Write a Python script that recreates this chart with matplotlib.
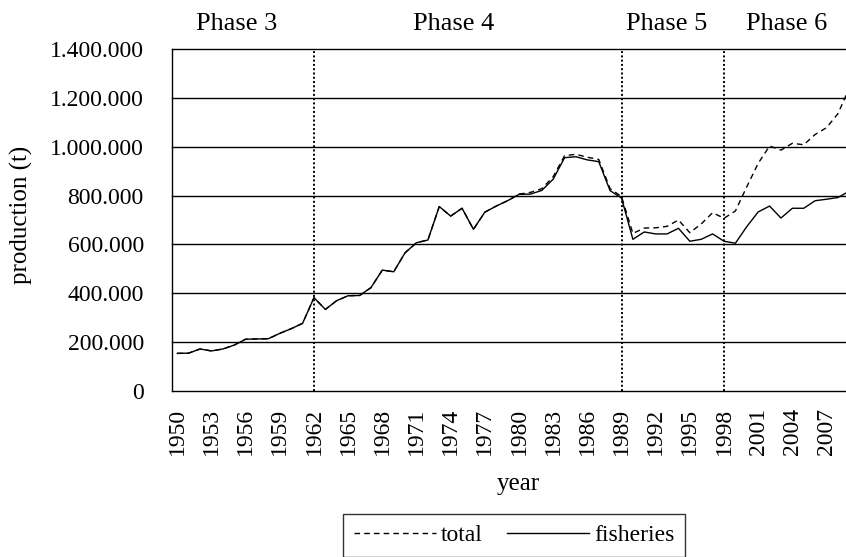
import matplotlib
matplotlib.use("Agg")
import matplotlib.pyplot as plt
from matplotlib.ticker import FuncFormatter

plt.rcParams['font.family'] = ['Liberation Serif', 'DejaVu Serif']

# production in tonnes, 1950-2009
years = list(range(1950, 2010))
fisheries = [154000, 155000, 172000, 164000, 172000, 188000, 212000, 213000, 214000, 236000,
             255000, 277000, 382000, 334000, 370000, 390000, 391000, 423000, 495000, 488000,
             566000, 607000, 618000, 755000, 716000, 748000, 662000, 732000, 757000, 779000,
             805000, 806000, 821000, 867000, 955000, 959000, 946000, 939000, 820000, 790000,
             621000, 651000, 643000, 643000, 666000, 613000, 621000, 643000, 613000, 605000,
             673000, 733000, 757000, 708000, 748000, 748000, 779000, 785000, 792000, 818000]
total = [154000, 155000, 172000, 164000, 172000, 188000, 212000, 213000, 214000, 236000,
         255000, 277000, 382000, 334000, 370000, 390000, 391000, 423000, 495000, 488000,
         566000, 607000, 618000, 755000, 716000, 748000, 662000, 732000, 757000, 779000,
         806000, 813000, 828000, 877000, 963000, 969000, 957000, 948000, 828000, 796000,
         645000, 667000, 668000, 674000, 700000, 648000, 684000, 730000, 707000, 737000,
         836000, 932000, 1003000, 986000, 1014000, 1008000, 1050000, 1078000, 1135000, 1240000]

phase_breaks = [1962, 1989, 1998]
phase_labels = ["Phase 3", "Phase 4", "Phase 5", "Phase 6"]
phase_label_x = [1955.2, 1974.3, 1993.0, 2003.5]
tick_years = list(range(1950, 2010, 3))

W, H = 846, 557
fig = plt.figure(figsize=(W / 100, H / 100), dpi=100)
# plot area runs a little past the right edge of the picture, as in the source
ax = fig.add_axes([171.6 / W, 1 - 391 / H, (855 - 171.6) / W, 342 / H])

for v in range(200000, 1400001, 200000):
    ax.axhline(v, color='black', lw=1.0, zorder=1, clip_on=False)
for yr in phase_breaks:
    ax.axvline(yr, color='black', lw=1.4, ls=(0, (1, 1.2)), zorder=2)

ax.plot(years, total, color='black', lw=1.0, ls=(0, (4, 3)), label='total', zorder=3)
ax.plot(years, fisheries, color='black', lw=1.0, label='fisheries', zorder=4)

ax.set_xlim(1949.5, 2009.5)
ax.set_ylim(0, 1400000)
ax.set_xticks(tick_years)
ax.set_xticklabels([str(y) for y in tick_years], rotation=90, fontsize=17)
ax.set_yticks(range(0, 1400001, 200000))
ax.yaxis.set_major_formatter(FuncFormatter(lambda v, p: f"{int(v):,}".replace(',', '.')))
ax.tick_params(axis='both', length=0, labelsize=17)
ax.tick_params(axis='y', pad=20)
ax.tick_params(axis='x', pad=12)

for side in ['top', 'right']:
    ax.spines[side].set_visible(False)
for side in ['left', 'bottom']:
    ax.spines[side].set_color('black')
    ax.spines[side].set_linewidth(1.0)

for lab, x in zip(phase_labels, phase_label_x):
    ax.text(x, 1.072, lab, transform=ax.get_xaxis_transform(), ha='center', va='center',
            fontsize=19)

fig.text(21 / W, 1 - 215 / H, "production (t)", rotation=90, ha='center', va='center',
         fontsize=18)
fig.text(518 / W, 1 - 484 / H, "year", ha='center', va='center', fontsize=18)

leg = fig.legend(loc='upper center', bbox_to_anchor=(514 / W, 1 - 514 / H), ncol=2,
                 fontsize=17, frameon=True, fancybox=False, handlelength=3.5,
                 handletextpad=0.2, columnspacing=1.0, borderpad=0.45, borderaxespad=0)
leg.get_frame().set_edgecolor('black')
leg.get_frame().set_linewidth(1.0)

fig.savefig("out.png", dpi=100)
